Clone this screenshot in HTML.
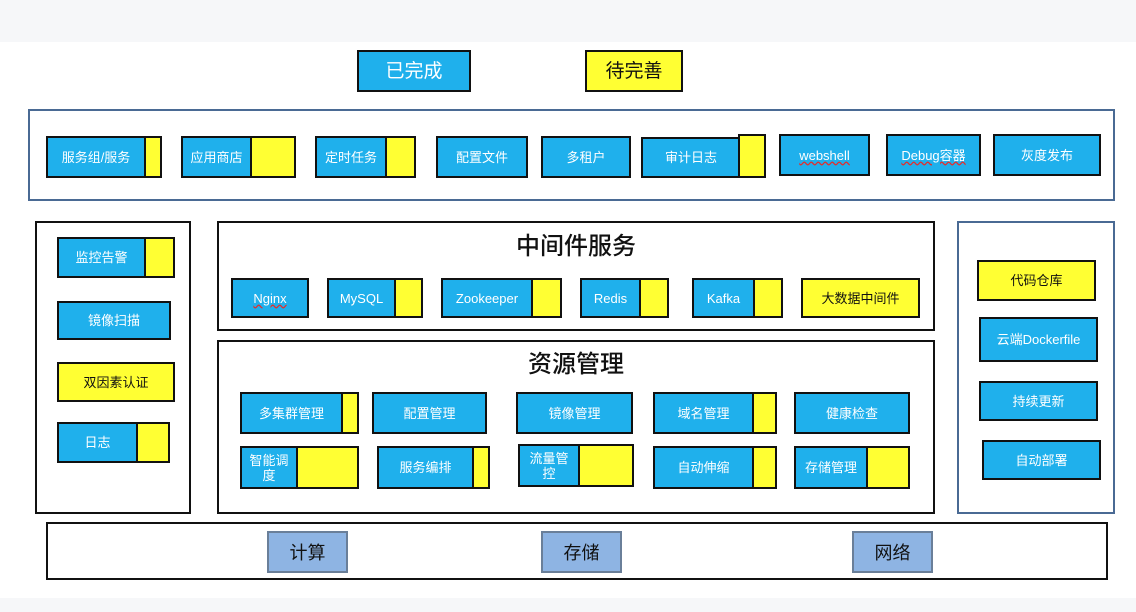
<!DOCTYPE html>
<html><head><meta charset="utf-8"><style>
body{margin:0;width:1136px;height:612px;position:relative;background:#fff;font-family:"Liberation Sans","Noto Sans CJK SC",sans-serif;overflow:hidden}
.a{position:absolute;box-sizing:border-box}
.p{border:2px solid #111;background:#fff}
.b{border:2px solid #111;background:#1fb0ec;color:#fff;font-size:13px;display:flex;align-items:center;justify-content:center;overflow:hidden}
.b .t{flex:1;text-align:center;line-height:15px}
.b .y{background:#ffff33;border-left:2px solid #111;align-self:stretch}
.yel{background:#ffff33;color:#111}
.g{background:#8eb4e3;border:2px solid #6a7f99;color:#111;font-size:18px;display:flex;align-items:center;justify-content:center}
.h{position:absolute;font-size:24px;color:#111;text-align:center;font-weight:500}
.w{text-decoration:underline wavy #e03030}
</style></head><body>
<div class="a" style="left:0;top:0;width:1136px;height:42px;background:#f6f7f9"></div>
<div class="a" style="left:0;top:598px;width:1136px;height:14px;background:#f6f7f9"></div>

<div class="a b" style="left:357px;top:50px;width:114px;height:42px;font-size:19px"><span class="t">已完成</span></div>
<div class="a b yel" style="left:585px;top:50px;width:98px;height:42px;font-size:19px"><span class="t">待完善</span></div>

<div class="a" style="left:28px;top:109px;width:1087px;height:92px;border:2px solid #4a6a94"></div>
<div class="a b" style="left:46px;top:136px;width:116px;height:42px"><span class="t">服务组/服务</span><span class="y" style="width:14px"></span></div>
<div class="a b" style="left:181px;top:136px;width:115px;height:42px"><span class="t">应用商店</span><span class="y" style="width:42px"></span></div>
<div class="a b" style="left:315px;top:136px;width:101px;height:42px"><span class="t">定时任务</span><span class="y" style="width:27px"></span></div>
<div class="a b" style="left:436px;top:136px;width:92px;height:42px"><span class="t">配置文件</span></div>
<div class="a b" style="left:541px;top:136px;width:90px;height:42px"><span class="t">多租户</span></div>
<div class="a b" style="left:641px;top:137px;width:100px;height:41px"><span class="t">审计日志</span></div>
<div class="a b yel" style="left:738px;top:134px;width:28px;height:44px"></div>
<div class="a b" style="left:779px;top:134px;width:91px;height:42px"><span class="t w">webshell</span></div>
<div class="a b" style="left:886px;top:134px;width:95px;height:42px"><span class="t w">Debug容器</span></div>
<div class="a b" style="left:993px;top:134px;width:108px;height:42px"><span class="t">灰度发布</span></div>

<div class="a p" style="left:35px;top:221px;width:156px;height:293px"></div>
<div class="a b" style="left:57px;top:237px;width:118px;height:41px"><span class="t">监控告警</span><span class="y" style="width:27px"></span></div>
<div class="a b" style="left:57px;top:301px;width:114px;height:39px"><span class="t">镜像扫描</span></div>
<div class="a b yel" style="left:57px;top:362px;width:118px;height:40px"><span class="t">双因素认证</span></div>
<div class="a b" style="left:57px;top:422px;width:113px;height:41px"><span class="t">日志</span><span class="y" style="width:30px"></span></div>

<div class="a p" style="left:217px;top:221px;width:718px;height:110px"></div>
<div class="h" style="left:217px;width:718px;top:226px">中间件服务</div>
<div class="a b" style="left:231px;top:278px;width:78px;height:40px"><span class="t w">Nginx</span></div>
<div class="a b" style="left:327px;top:278px;width:96px;height:40px"><span class="t">MySQL</span><span class="y" style="width:25px"></span></div>
<div class="a b" style="left:441px;top:278px;width:121px;height:40px"><span class="t">Zookeeper</span><span class="y" style="width:27px"></span></div>
<div class="a b" style="left:580px;top:278px;width:89px;height:40px"><span class="t">Redis</span><span class="y" style="width:26px"></span></div>
<div class="a b" style="left:692px;top:278px;width:91px;height:40px"><span class="t">Kafka</span><span class="y" style="width:26px"></span></div>
<div class="a b yel" style="left:801px;top:278px;width:119px;height:40px"><span class="t">大数据中间件</span></div>

<div class="a p" style="left:217px;top:340px;width:718px;height:174px"></div>
<div class="h" style="left:217px;width:718px;top:344px">资源管理</div>
<div class="a b" style="left:240px;top:392px;width:119px;height:42px"><span class="t">多集群管理</span><span class="y" style="width:14px"></span></div>
<div class="a b" style="left:372px;top:392px;width:115px;height:42px"><span class="t">配置管理</span></div>
<div class="a b" style="left:516px;top:392px;width:117px;height:42px"><span class="t">镜像管理</span></div>
<div class="a b" style="left:653px;top:392px;width:124px;height:42px"><span class="t">域名管理</span><span class="y" style="width:21px"></span></div>
<div class="a b" style="left:794px;top:392px;width:116px;height:42px"><span class="t">健康检查</span></div>
<div class="a b" style="left:240px;top:446px;width:119px;height:43px"><span class="t">智能调<br>度</span><span class="y" style="width:59px"></span></div>
<div class="a b" style="left:377px;top:446px;width:113px;height:43px"><span class="t">服务编排</span><span class="y" style="width:14px"></span></div>
<div class="a b" style="left:518px;top:444px;width:116px;height:43px"><span class="t">流量管<br>控</span><span class="y" style="width:52px"></span></div>
<div class="a b" style="left:653px;top:446px;width:124px;height:43px"><span class="t">自动伸缩</span><span class="y" style="width:21px"></span></div>
<div class="a b" style="left:794px;top:446px;width:116px;height:43px"><span class="t">存储管理</span><span class="y" style="width:40px"></span></div>

<div class="a" style="left:957px;top:221px;width:158px;height:293px;border:2px solid #4a6a94"></div>
<div class="a b yel" style="left:977px;top:260px;width:119px;height:41px"><span class="t">代码仓库</span></div>
<div class="a b" style="left:979px;top:317px;width:119px;height:45px"><span class="t">云端Dockerfile</span></div>
<div class="a b" style="left:979px;top:381px;width:119px;height:40px"><span class="t">持续更新</span></div>
<div class="a b" style="left:982px;top:440px;width:119px;height:40px"><span class="t">自动部署</span></div>

<div class="a p" style="left:46px;top:522px;width:1062px;height:58px"></div>
<div class="a g" style="left:267px;top:531px;width:81px;height:42px">计算</div>
<div class="a g" style="left:541px;top:531px;width:81px;height:42px">存储</div>
<div class="a g" style="left:852px;top:531px;width:81px;height:42px">网络</div>
</body></html>
